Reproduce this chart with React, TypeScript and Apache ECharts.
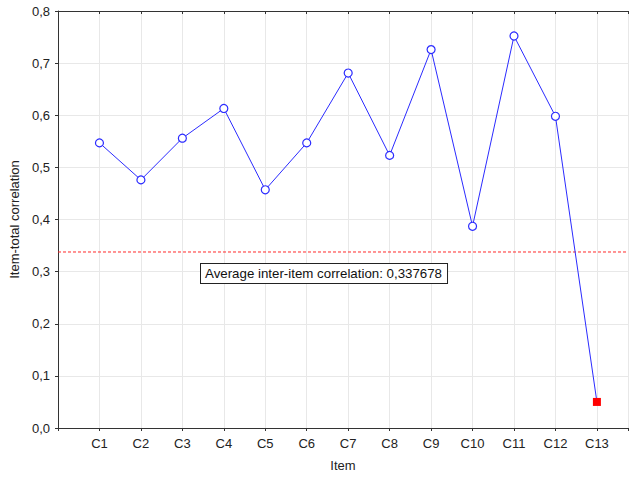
import React, { useEffect, useRef } from "react";
import * as echarts from "echarts";

const categories = ["C1", "C2", "C3", "C4", "C5", "C6", "C7", "C8", "C9", "C10", "C11", "C12", "C13"];
const correlations = [0.547, 0.476, 0.556, 0.613, 0.457, 0.547, 0.681, 0.523, 0.726, 0.387, 0.752, 0.598, 0.05];
const averageInterItem = 0.337678;
const yTicks = [0, 0.1, 0.2, 0.3, 0.4, 0.5, 0.6, 0.7, 0.8];

const FONT = "Liberation Sans, Arial, sans-serif";
const X_MAX = 13.75;

export default function App() {
  const ref = useRef<HTMLDivElement>(null);
  useEffect(() => {
    if (!ref.current) return;
    const chart = echarts.init(ref.current, undefined, { renderer: "svg" });
    const data = correlations.map((v, i) => {
      const isLast = i === correlations.length - 1;
      return isLast
        ? { value: [i + 1, v], symbol: "rect", symbolSize: 8, itemStyle: { color: "#ff0000", borderColor: "#ff0000", borderWidth: 0 } }
        : { value: [i + 1, v] };
    });
    const fmt = (v: number) => v.toFixed(1).replace(".", ",");
    const redDash = { color: "#ff2a2a", type: [3, 2], width: 1, opacity: 1 };
    chart.setOption({
      animation: false,
      backgroundColor: "#ffffff",
      textStyle: { fontFamily: FONT },
      grid: { left: 58, top: 11, right: 0, bottom: 47, containLabel: false },
      xAxis: [
        {
          type: "value",
          min: 0,
          max: X_MAX,
          interval: 1,
          name: "Item",
          nameLocation: "middle",
          nameGap: 31,
          nameTextStyle: { fontSize: 13, color: "#222", fontFamily: FONT },
          axisLine: { show: true, lineStyle: { color: "#333", width: 1 } },
          axisTick: { show: true, length: 3, lineStyle: { color: "#333" } },
          axisLabel: {
            fontSize: 13,
            color: "#222",
            margin: 9,
            fontFamily: FONT,
            formatter: (v: number) => (v >= 1 && v <= categories.length && Number.isInteger(v) ? categories[v - 1] : ""),
          },
          splitLine: { show: true, lineStyle: { color: "#e8e8e8", width: 1 } },
        },
        {
          type: "value",
          position: "top",
          min: 0,
          max: X_MAX,
          interval: 1,
          axisLine: { show: true, lineStyle: { color: "#333", width: 1 } },
          axisTick: { show: true, inside: true, length: 3, lineStyle: { color: "#333" } },
          axisLabel: { show: false },
          splitLine: { show: false },
        },
      ],
      yAxis: {
        type: "value",
        min: yTicks[0],
        max: yTicks[yTicks.length - 1],
        interval: 0.1,
        name: "Item-total correlation",
        nameLocation: "middle",
        nameGap: 35,
        nameTextStyle: { fontSize: 13, color: "#222", fontFamily: FONT },
        axisLine: { show: true, lineStyle: { color: "#333", width: 1 } },
        axisTick: { show: true, length: 3, lineStyle: { color: "#333" } },
        axisLabel: { fontSize: 13, color: "#222", margin: 8, fontFamily: FONT, formatter: fmt },
        splitLine: { show: true, lineStyle: { color: "#e8e8e8", width: 1 } },
      },
      series: [
        {
          name: "average",
          type: "line",
          data: [
            [0, averageInterItem],
            [X_MAX, averageInterItem],
          ],
          symbol: "none",
          silent: true,
          lineStyle: redDash,
          itemStyle: { color: "#ff2a2a" },
          z: 1,
        },
        {
          name: "items",
          type: "line",
          data,
          symbol: "circle",
          symbolSize: 8,
          showAllSymbol: true,
          lineStyle: { color: "#2b2bff", width: 1 },
          itemStyle: { color: "#ffffff", borderColor: "#2b2bff", borderWidth: 1.2 },
          z: 3,
        },
      ],
      graphic: [
        {
          type: "text",
          left: 200,
          top: 263,
          style: {
            text: "Average inter-item correlation: " + String(averageInterItem).replace(".", ","),
            font: "13.3px " + FONT,
            fill: "#111",
            backgroundColor: "#ffffff",
            borderColor: "#222",
            borderWidth: 1,
            padding: [3, 5, 3, 4],
          },
          z: 100,
        },
      ],
    });
    return () => chart.dispose();
  }, []);
  return <div ref={ref} style={{ position: "fixed", left: 0, top: 0, width: 631, height: 477 }} />;
}
